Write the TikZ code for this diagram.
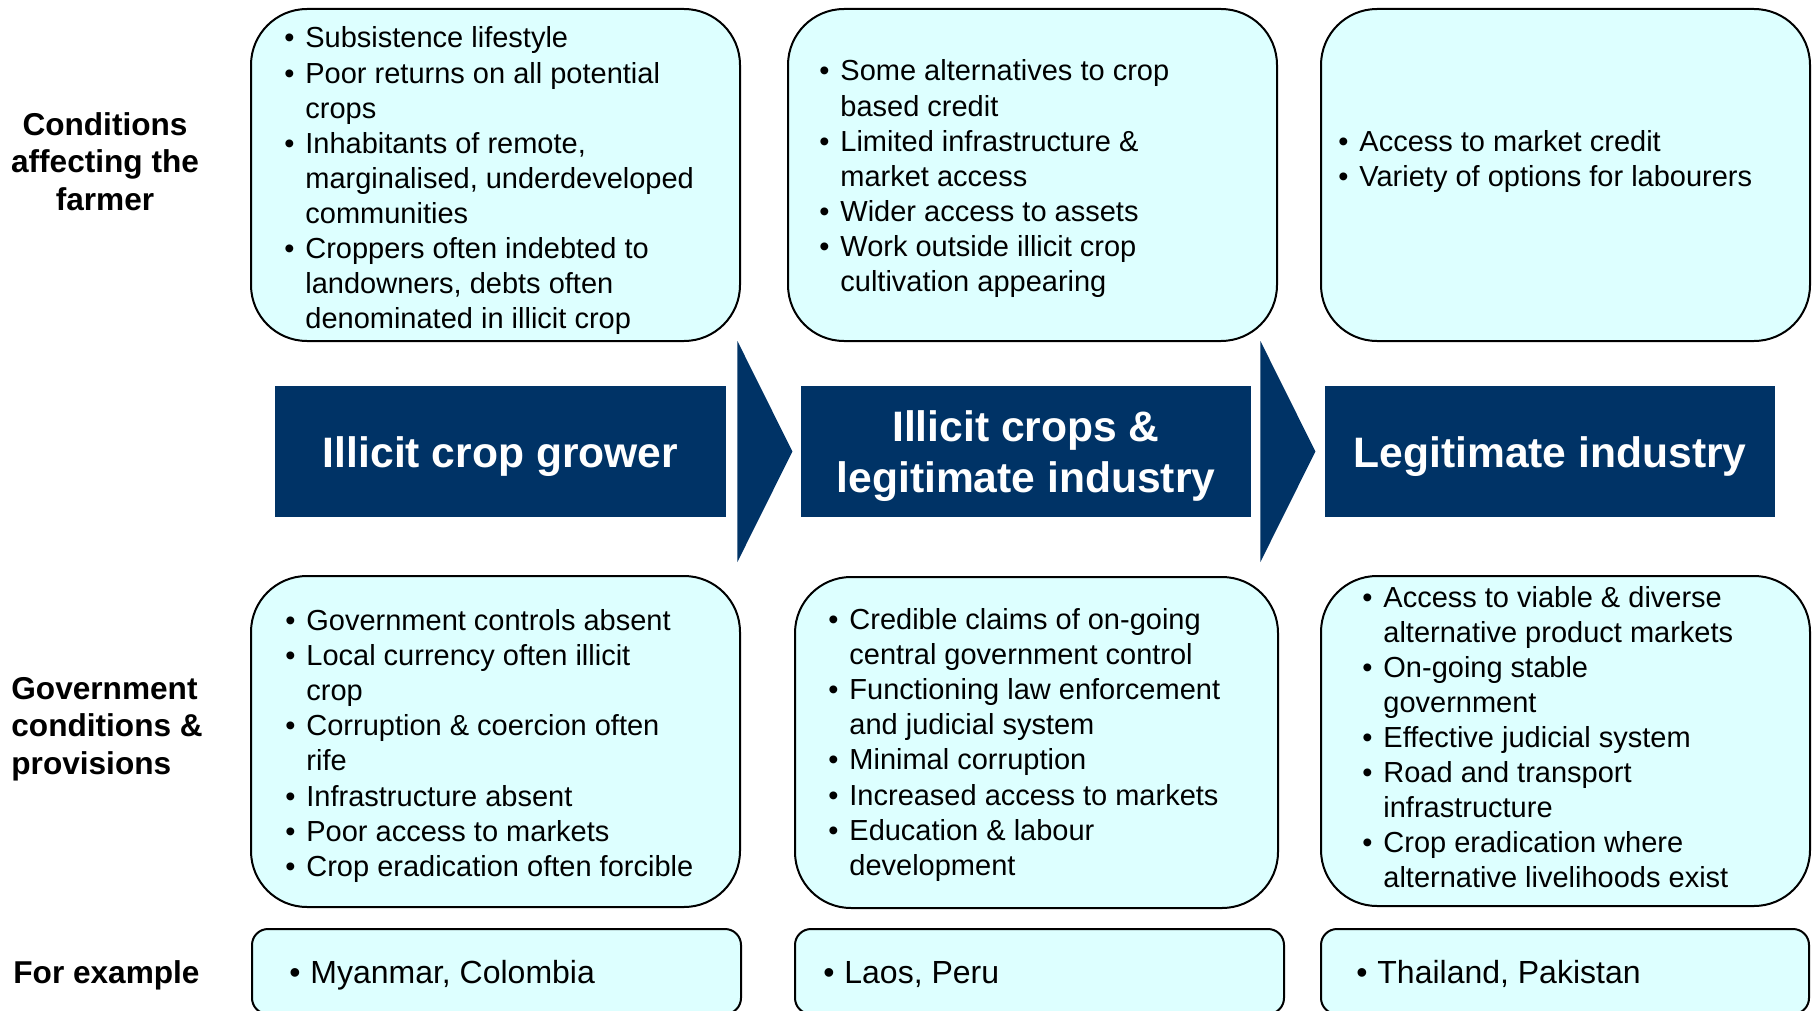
\documentclass[tikz,border=0pt]{standalone}
\usepackage{fontspec}
\setmainfont{Liberation Sans}
\usetikzlibrary{calc}
\definecolor{navy}{HTML}{003366}
\definecolor{cyanfill}{HTML}{DDFFFF}
\newlength\bw \setlength\bw{10.5pt}
\newcommand\bu[1]{\makebox[\bw][l]{\textbullet}#1\par}
\newcommand\ct[1]{\hspace*{\bw}#1\par}
\newcommand\blist[1]{\begin{minipage}[t]{260pt}\setlength\parindent{0pt}#1\end{minipage}}
\newcommand\dropby[2]{\raisebox{-#1}[\height][\depth]{#2}}
\tikzset{
  cbox/.style={draw=black, line width=1pt, fill=cyanfill, rounded corners=28pt, inner sep=0pt, anchor=north west},
  ebox/.style={cbox, rounded corners=8pt},
  hbox/.style={fill=navy, text=white, font=\bfseries\fontsize{21.3}{25.5}\selectfont, inner sep=0pt},
  body/.style={anchor=base west, inner sep=0pt, font=\fontsize{14.5}{17.55}\selectfont},
  exbody/.style={anchor=base west, inner sep=0pt, font=\fontsize{16}{19}\selectfont},
  lab/.style={inner sep=0pt, font=\bfseries\fontsize{15.8}{18.75}\selectfont},
  chevron/.style={fill=navy}
}
\begin{document}
\begin{tikzpicture}[x=0.5pt, y=-0.5pt]
\path[use as bounding box] (0,0) rectangle (1814,1011);
\clip (0,0) rectangle (1814,1011);
\fill[white] (0,0) rectangle (1814,1011);

% top boxes
\node[cbox, minimum width=244.5pt, minimum height=166pt] (tl) at (250,8) {};
\node[cbox, minimum width=244.5pt, minimum height=166pt] (tm) at (787,8) {};
\node[cbox, minimum width=244.5pt, minimum height=166pt] (tr) at (1320,8) {};
% bottom boxes
\node[cbox, minimum width=244.5pt, minimum height=165.5pt] (bl) at (250,575) {};
\node[cbox, minimum width=241.5pt, minimum height=165.5pt] (bm) at (794,576) {};
\node[cbox, minimum width=244.5pt, minimum height=165pt] (br) at (1320,575) {};
% example boxes
\node[ebox, minimum width=244.5pt, minimum height=42.5pt] (el) at (251,928) {};
\node[ebox, minimum width=244.5pt, minimum height=42.5pt] (em) at (794,928) {};
\node[ebox, minimum width=244pt, minimum height=42.5pt] (er) at (1320,928) {};

% headers
\node[hbox, minimum width=225.5pt, minimum height=65.5pt] (h1) at (500.5,451.5) {\dropby{2.4pt}{Illicit crop grower}};
\node[hbox, minimum width=225pt, minimum height=65.5pt] (h2) at (1026,451.5) {\dropby{2.8pt}{\begin{tabular}{@{}c@{}}Illicit crops \&\\legitimate industry\end{tabular}}};
\node[hbox, minimum width=225pt, minimum height=65.5pt] (h3) at (1550,451.5) {\dropby{2.4pt}{Legitimate industry}};

% chevrons between headers
\fill[chevron] ($(h1.east)+(11,-110.5)$) -- ($(h1.east)+(66,0)$) -- ($(h1.east)+(11,110.5)$) -- cycle;
\fill[chevron] ($(h2.east)+(9,-110.5)$) -- ($(h2.east)+(64,0)$) -- ($(h2.east)+(9,110.5)$) -- cycle;

% row labels
\node[lab, anchor=base] (lc) at (105,135) {\begin{minipage}[t]{120pt}\centering Conditions\\affecting the\\farmer\end{minipage}};
\node[lab, anchor=base west] (lg) at (11,699) {\begin{minipage}[t]{120pt}Government\\conditions \&\\provisions\end{minipage}};
\node[lab, anchor=base west] (lf) at (13,983) {For example};

% top texts
\node[body] (ttl) at (284,48) {\blist{%
\bu{Subsistence lifestyle}
\bu{Poor returns on all potential}
\ct{crops}
\bu{Inhabitants of remote,}
\ct{marginalised, underdeveloped}
\ct{communities}
\bu{Croppers often indebted to}
\ct{landowners, debts often}
\ct{denominated in illicit crop}}};
\node[body] (ttm) at (819,81) {\blist{%
\bu{Some alternatives to crop}
\ct{based credit}
\bu{Limited infrastructure \&}
\ct{market access}
\bu{Wider access to assets}
\bu{Work outside illicit crop}
\ct{cultivation appearing}}};
\node[body] (ttr) at (1338,151) {\blist{%
\bu{Access to market credit}
\bu{Variety of options for labourers}}};

% bottom texts
\node[body] (tbl) at (285,630.5) {\blist{%
\bu{Government controls absent}
\bu{Local currency often illicit}
\ct{crop}
\bu{Corruption \& coercion often}
\ct{rife}
\bu{Infrastructure absent}
\bu{Poor access to markets}
\bu{Crop eradication often forcible}}};
\node[body] (tbm) at (828,629.5) {\blist{%
\bu{Credible claims of on-going}
\ct{central government control}
\bu{Functioning law enforcement}
\ct{and judicial system}
\bu{Minimal corruption}
\bu{Increased access to markets}
\bu{Education \& labour}
\ct{development}}};
\node[body] (tbr) at (1362,607) {\blist{%
\bu{Access to viable \& diverse}
\ct{alternative product markets}
\bu{On-going stable}
\ct{government}
\bu{Effective judicial system}
\bu{Road and transport}
\ct{infrastructure}
\bu{Crop eradication where}
\ct{alternative livelihoods exist}}};

% examples
\node[exbody] (tel) at (289,983) {\blist{\bu{Myanmar, Colombia}}};
\node[exbody] (tem) at (823,983) {\blist{\bu{Laos, Peru}}};
\node[exbody] (ter) at (1356,983) {\blist{\bu{Thailand, Pakistan}}};
\end{tikzpicture}
\end{document}
